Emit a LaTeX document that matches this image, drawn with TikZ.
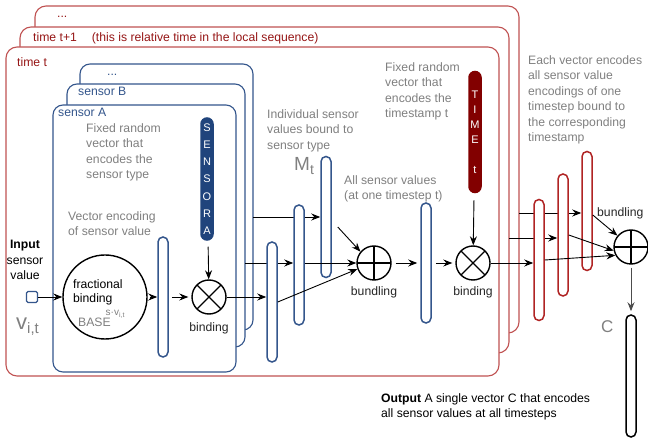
\documentclass[tikz,border=0pt]{standalone}
\usepackage{fontspec}
\setmainfont{Liberation Sans}
\usetikzlibrary{arrows.meta,positioning,calc}

\definecolor{framered}{RGB}{192,82,82}
\definecolor{vecred}{RGB}{176,36,36}
\definecolor{timered}{RGB}{150,22,22}
\definecolor{timefill}{RGB}{130,0,0}
\definecolor{sensorblue}{RGB}{52,86,140}
\definecolor{sensorfill}{RGB}{32,68,124}
\definecolor{notegray}{RGB}{128,128,128}

\pgfdeclarelayer{frames}
\pgfdeclarelayer{background}
\pgfsetlayers{frames,background,main}

\begin{document}
\begin{tikzpicture}[x=1pt, y=-1pt,
  font=\fontsize{12.2}{15.5}\selectfont,
  vec/.style={draw, line width=1.5pt, fill=white, rounded corners=5pt,
    minimum width=10pt, inner sep=0pt},
  op/.style={draw, circle, line width=1.4pt, fill=white, minimum size=34pt, inner sep=0pt},
  bindop/.style={op, path picture={\draw[line width=1.4pt]
      (path picture bounding box.north west) -- (path picture bounding box.south east)
      (path picture bounding box.north east) -- (path picture bounding box.south west);}},
  bundop/.style={op, path picture={\draw[line width=1.4pt]
      (path picture bounding box.north) -- (path picture bounding box.south)
      (path picture bounding box.west) -- (path picture bounding box.east);}},
  note/.style={text=notegray, align=left, inner sep=0pt, anchor=north west},
  oplabel/.style={inner sep=0pt, text=black!85},
  flow/.style={-{Stealth[length=9pt, width=7pt, inset=3pt]}, line width=0.9pt},
  timeframe/.style={draw=framered, line width=1.1pt, fill=white, rounded corners=11pt},
  sensorframe/.style={draw=sensorblue, line width=1.1pt, fill=white, rounded corners=10pt},
  framelabel/.style={inner sep=0pt, anchor=north west},
]
\useasboundingbox (0,0) rectangle (648,443);

% time frames and sensor frames, back to front
\begin{pgfonlayer}{frames}
\draw[timeframe] (35,6) rectangle (519,333);
\node[framelabel, text=timered, anchor=base west] (tdots) at (57,18) {...};
\draw[timeframe] (20,27) rectangle (509,353);
\node[framelabel, text=timered] (tnext) at (33,32) {time t+1\hspace{15pt}(this is relative time in the local sequence)};
\draw[timeframe] (6,47) rectangle (499,376);
\node[framelabel, text=timered] (tnow) at (17,57) {time t};

\draw[sensorframe] (80,64) rectangle (253,330);
\node[framelabel, text=sensorblue, anchor=base west] (sdots) at (107,76) {...};
\draw[sensorframe] (67,84) rectangle (245,347);
\node[framelabel, text=sensorblue] (sB) at (78,87) {sensor B};
\draw[sensorframe] (53,105) rectangle (236,372);
\node[framelabel, text=sensorblue] (sA) at (58,108) {sensor A};
\end{pgfonlayer}

% input value
\node[align=center, inner sep=0pt, anchor=north] (inptxt) at (25,240) {\textbf{Input}\\sensor\\value};
\node[draw=sensorblue, line width=1.3pt, rounded corners=1.5pt, minimum size=11pt, inner sep=0pt] (inp) at (32,297) {};
\node[text=notegray, inner sep=0pt, anchor=base west] (vit) at (16,330)
  {\fontsize{22}{22}\selectfont v\raisebox{-4pt}{\fontsize{15}{15}\selectfont i,t}};

% fractional binding
\node[draw, circle, line width=1.4pt, fill=white, minimum size=84pt] (frac) at (105,297) {};
\node[align=left, inner sep=0pt, anchor=north west, font=\fontsize{12.2}{14.5}\selectfont] (fractxt) at (73,279) {fractional\\binding};
\node[text=notegray, inner sep=0pt, anchor=base west] (base) at (78,327)
  {BASE\hspace{-5pt}\raisebox{11pt}{\fontsize{10}{10}\selectfont s·v\textsubscript{i,t}}};

% sensor A
\node[note] (vecnote) at (68,211) {Vector encoding\\of sensor value};
\node[vec, draw=sensorblue, minimum height=120pt] (vecA) at (163,297) {};
\node[note] (sensnote) at (86,123) {Fixed random\\vector that\\encodes the\\sensor type};
\node[vec, draw=sensorfill, fill=sensorfill, minimum width=12pt, rounded corners=6pt,
  minimum height=122pt, text=white, align=center, font=\fontsize{11}{17.2}\selectfont] (sensA) at (207,179) {S\\E\\N\\S\\O\\R\\A};
\node[bindop] (bindA) at (209,297) {};
\node[oplabel, below=8pt of bindA] (bindAlbl) {binding};

% one vector per sensor
\node[vec, draw=sensorblue, minimum height=120pt] (vec1) at (272,302) {};
\node[vec, draw=sensorblue, minimum height=120pt] (vec2) at (299,265) {};
\node[vec, draw=sensorblue, minimum height=121pt] (vec3) at (326,217) {};
\node[note] (indnote) at (267,109) {Individual sensor\\values bound to\\sensor type};
\node[text=notegray, inner sep=0pt, anchor=base west] (Mt) at (294,171)
  {\fontsize{19}{19}\selectfont M\raisebox{-4pt}{\fontsize{14}{14}\selectfont t}};
\coordinate (sBout) at (245,263);
\coordinate (sDout) at (253,217);

% bundling of the sensors
\node[bundop] (bund1) at (374,263) {};
\node[oplabel, below=6pt of bund1] (bund1lbl) {bundling};
\node[note] (allnote) at (344,175) {All sensor values\\(at one timestep t)};
\node[vec, draw=sensorblue, minimum height=120pt] (vecall) at (426,263) {};

% binding with the timestamp
\node[note] (timenote) at (385,62) {Fixed random\\vector that\\encodes the\\timestamp t};
\node[vec, draw=timefill, fill=timefill, minimum width=12pt, rounded corners=6pt,
  minimum height=121pt, text=white, align=center, font=\fontsize{11}{15}\selectfont] (timeT) at (475,132) {T\\I\\M\\E\\~\\t};
\node[bindop] (bindT) at (473,263) {};
\node[oplabel, below=6pt of bindT] (bindTlbl) {binding};

% one vector per timestep
\node[vec, draw=vecred, minimum height=121pt] (r1) at (539,260) {};
\node[vec, draw=vecred, minimum height=122pt] (r2) at (563,235) {};
\node[vec, draw=vecred, minimum height=119pt] (r3) at (587,211) {};
\node[note] (eachnote) at (528,55) {Each vector encodes\\all sensor value\\encodings of one\\timestep bound to\\the corresponding\\timestamp};
\coordinate (t1out) at (509,238);
\coordinate (t2out) at (519,213);

% bundling of all timesteps
\node[bundop] (bund2) at (631,247) {};
\node[oplabel, anchor=north west] (bund2lbl) at (597,207) {bundling};
\node[vec, draw=black, minimum height=122pt] (vecC) at (631,376) {};
\node[text=notegray, inner sep=0pt, anchor=base west] (Clbl) at (601,333) {\fontsize{17}{17}\selectfont C};
\node[inner sep=0pt, anchor=north west, align=left] (outnote) at (381,393)
  {\textbf{Output} A single vector C that encodes\\all sensor values at all timesteps};

% connectors
\draw[flow] (inp) -- (frac);
\draw[flow, shorten <=2pt] (frac) -- (vecA);
\draw[flow, shorten <=3pt, shorten >=3pt] (vecA) -- (bindA);
\draw[flow, shorten <=6pt] (sensA) -- (bindA);
\draw[flow] (bindA.east) -- (bindA.east -| vec1.west);
\draw[flow] (vec2.east |- bund1.west) -- (bund1.west);
\draw[flow] (vec1.east) -- (bund1.200);
\draw[flow] ($(vec3.east)+(6,10)$) -- (bund1.140);
\draw[flow, shorten <=4pt, shorten >=3pt] (bund1) -- (vecall);
\draw[flow, shorten <=4pt, shorten >=3pt] (vecall) -- (bindT);
\draw[flow, shorten <=7pt] (timeT) -- (bindT);
\draw[flow] (bindT.east) -- (bindT.east -| r1.west);
\draw[flow] (r1.east) -- (bund2.208);
\draw[flow] (r2.east) -- (bund2.192);
\draw[flow] ($(r3.east)+(0,4)$) -- (bund2.140);
\draw[flow, black!70, shorten <=3pt, shorten >=3pt] (bund2) -- (vecC);

\begin{pgfonlayer}{background}
\draw[flow] (sBout) -- (sBout -| vec2.west);
\draw[flow] (sDout) -- (sDout -| vec3.west);
\draw[flow] (t1out) -- (t1out -| r2.west);
\draw[flow] (t2out) -- (t2out -| r3.west);
\end{pgfonlayer}
\end{tikzpicture}
\end{document}
